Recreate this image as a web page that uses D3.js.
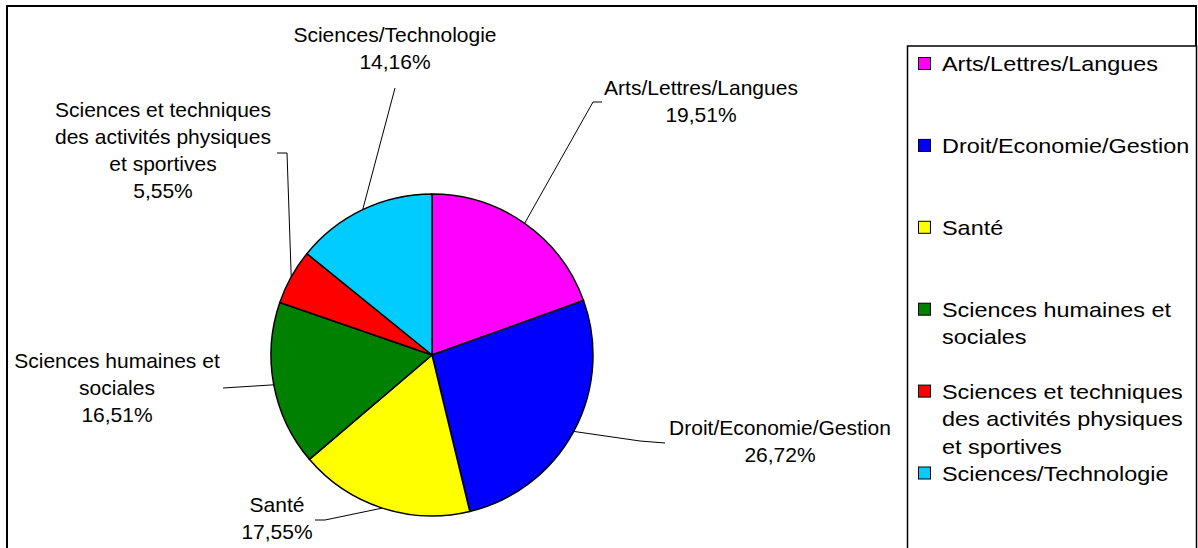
<!DOCTYPE html>
<html>
<head>
<meta charset="utf-8">
<script src="https://cdn.jsdelivr.net/npm/d3@7"></script>
<style>
  html, body { margin: 0; padding: 0; background: #fff; }
  svg { display: block; }
  text { font-family: "Liberation Sans", Arial, sans-serif; fill: #000; }
</style>
</head>
<body>
<svg id="chart" width="1198" height="548"></svg>
<script>
// ---- Data ----
const categories = [
  "Arts/Lettres/Langues",
  "Droit/Economie/Gestion",
  "Santé",
  "Sciences humaines et sociales",
  "Sciences et techniques des activités physiques et sportives",
  "Sciences/Technologie"
];
const values = [19.51, 26.72, 17.55, 16.51, 5.55, 14.16];
const valueLabels = ["19,51%", "26,72%", "17,55%", "16,51%", "5,55%", "14,16%"];
const colors = ["#FF00FF", "#0000FF", "#FFFF00", "#008000", "#FF0000", "#00CCFF"];

// label line breaks (text)
const labelLines = [
  ["Arts/Lettres/Langues"],
  ["Droit/Economie/Gestion"],
  ["Santé"],
  ["Sciences humaines et", "sociales"],
  ["Sciences et techniques", "des activités physiques", "et sportives"],
  ["Sciences/Technologie"]
];
const legendLines = [
  ["Arts/Lettres/Langues"],
  ["Droit/Economie/Gestion"],
  ["Santé"],
  ["Sciences humaines et", "sociales"],
  ["Sciences et techniques", "des activités physiques", "et sportives"],
  ["Sciences/Technologie"]
];

// ---- Layout (positions only) ----
const W = 1198, H = 548;
const cx = 432, cy = 355, R = 161;
// label layout: text center x, first baseline, leader elbow points
const labelLayout = [
  { x: 701, y: 95,  pts: [[593, 102], [602, 102]] },
  { x: 780, y: 435, pts: [[640, 441], [665, 443]] },
  { x: 277, y: 512, pts: [[325, 520], [315, 520]] },
  { x: 117, y: 368, pts: [[223, 388]] },
  { x: 163, y: 117, pts: [[287, 153], [277, 153]] },
  { x: 395, y: 42,  pts: [[395, 88]] }
];
const lineH = 27;

const svg = d3.select("#chart");

// outer frame
svg.append("rect").attr("x", 7).attr("y", 6).attr("width", 1189).attr("height", 560)
  .attr("fill", "none").attr("stroke", "#000").attr("stroke-width", 2);

// pie
const pie = d3.pie().sort(null).value(d => d)(values);
const arc = d3.arc().innerRadius(0).outerRadius(R);
const edgeArc = d3.arc().innerRadius(R).outerRadius(R);
const g = svg.append("g").attr("transform", `translate(${cx},${cy})`);

g.selectAll("path.slice").data(pie).join("path")
  .attr("class", "slice")
  .attr("d", arc)
  .attr("fill", (d, i) => colors[i])
  .attr("stroke", "#000")
  .attr("stroke-width", 1.5)
  .attr("stroke-linejoin", "round");

// leader lines
const line = d3.line();
pie.forEach((d, i) => {
  const c = edgeArc.centroid(d);
  const start = [cx + c[0], cy + c[1]];
  const pts = [start].concat(labelLayout[i].pts);
  svg.append("path").attr("d", line(pts))
    .attr("fill", "none").attr("stroke", "#000").attr("stroke-width", 1);
});

// labels
labelLines.forEach((lines, i) => {
  const L = labelLayout[i];
  const all = lines.concat([valueLabels[i]]);
  const t = svg.append("text").attr("text-anchor", "middle").attr("font-size", 21);
  all.forEach((s, k) => {
    t.append("tspan").attr("x", L.x).attr("y", L.y + k * lineH).text(s);
  });
});

// legend box
svg.append("rect").attr("x", 907.5).attr("y", 46).attr("width", 289).attr("height", 520)
  .attr("fill", "#fff").attr("stroke", "#000").attr("stroke-width", 1.5);

const legendY = d3.scaleLinear().domain([0, categories.length - 1]).range([71, 480.5]);
categories.forEach((cat, i) => {
  const by = legendY(i);
  svg.append("rect").attr("x", 918.5).attr("y", by - 13.5).attr("width", 12).attr("height", 12)
    .attr("fill", colors[i]).attr("stroke", "#000").attr("stroke-width", 1);
  legendLines[i].forEach((s, k) => {
    svg.append("text")
      .attr("transform", `translate(942,${by + k * 27.5}) scale(1.115,1)`)
      .attr("font-size", 21)
      .text(s);
  });
});
</script>
</body>
</html>
